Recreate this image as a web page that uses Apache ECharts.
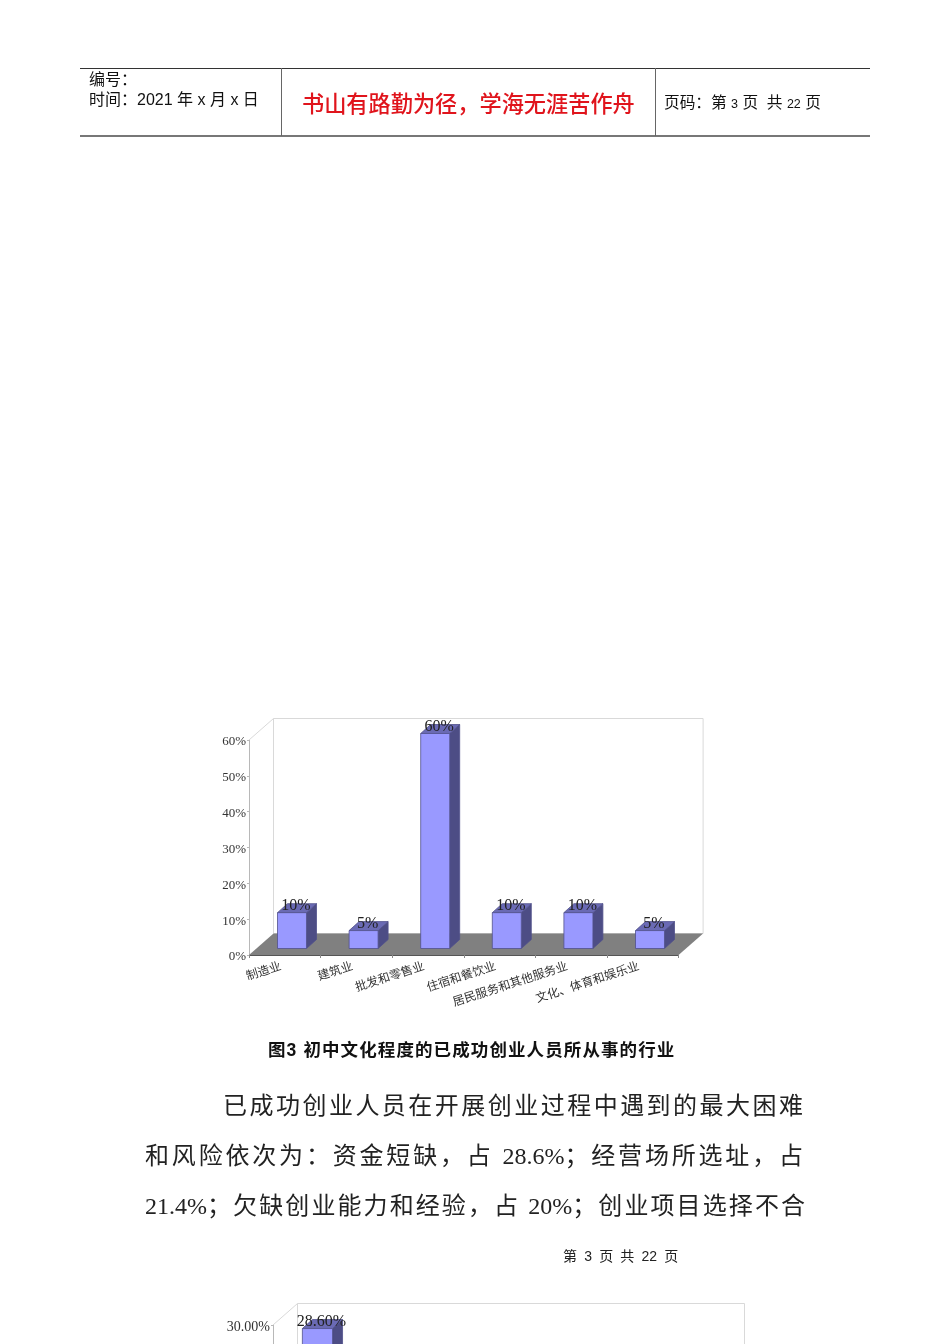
<!DOCTYPE html>
<html><head><meta charset="utf-8">
<style>
html,body{margin:0;padding:0;background:#fff;width:950px;height:1344px;overflow:hidden}
body{position:relative;font-family:"Liberation Sans","Noto Sans CJK SC",sans-serif;color:#111}
#chart{position:absolute;left:0;top:0;width:950px;height:1344px}
.t{position:absolute;white-space:nowrap;line-height:1}
.r{position:absolute;background:#333}
.body{font-family:"Liberation Serif","Noto Sans CJK SC",serif;font-size:24px;color:#222;text-align:justify;text-align-last:justify;white-space:normal}
</style></head><body>
<div id="chart"></div>
<div class="r" style="left:80px;top:68px;width:790px;height:1px"></div>
<div class="r" style="left:80px;top:135px;width:790px;height:2px;background:#777"></div>
<div class="r" style="left:281px;top:68px;width:1px;height:68px;background:#666"></div>
<div class="r" style="left:654.5px;top:68px;width:1px;height:68px;background:#666"></div>
<div class="t" style="left:89px;top:72px;font-size:16px">编号：</div>
<div class="t" style="left:89px;top:92px;font-size:16px">时间：2021 年 x 月 x 日</div>
<div class="t" style="left:302px;top:94px;font-size:22.2px;color:#e0141c;font-weight:500">书山有路勤为径，学海无涯苦作舟</div>
<div class="t" style="left:664px;top:95px;font-size:15.7px">页码：第 <span style="font-size:12.5px">3</span> 页&nbsp; 共 <span style="font-size:12.5px">22</span> 页</div>
<div class="t" style="left:268px;top:1042px;font-size:17.5px;font-weight:700;letter-spacing:1.1px">图3 初中文化程度的已成功创业人员所从事的行业</div>
<div class="t body" style="left:223px;top:1094px;width:580px">已成功创业人员在开展创业过程中遇到的最大困难</div>
<div class="t body" style="left:145px;top:1144px;width:658px">和风险依次为：资金短缺，占 28.6%；经营场所选址，占</div>
<div class="t body" style="left:145px;top:1194px;width:660px">21.4%；欠缺创业能力和经验，占 20%；创业项目选择不合</div>
<div class="t" style="left:563px;top:1249px;font-size:14px;word-spacing:3.3px;color:#222">第 3 页 共 22 页</div>
<script src="https://cdn.jsdelivr.net/npm/echarts@6/dist/echarts.min.js"></script>
<script>
const categories1 = ['制造业','建筑业','批发和零售业','住宿和餐饮业','居民服务和其他服务业','文化、体育和娱乐业'];
const values1 = [10, 5, 60, 10, 10, 5];
const yMax1 = 60, yStep1 = 10;

const categories2 = ['', '', '', '', '', ''];
const values2 = [28.6];
const yMax2 = 30, yStep2 = 5;

const FONT = '"Liberation Serif","Noto Sans CJK SC",serif';
const C = {front:'#9999FF', side:'#4D4D85', top:'#6A6AB4', edge:'#50508C', floor:'#808080', wall:'#D9D9D9', axis:'#B8B8B8'};
const DX = 24.5, DY = 21.5, BAR_DX = 7.2, BAR_DY = 6.5, BAR_D = 10, BAR_H = 9;

function frame(params){
  const g = params.coordSys, l = g.x, r = g.x + g.width, t = g.y, b = g.y + g.height;
  const poly = (pts, fill, stroke) => ({type:'polygon', silent:true, shape:{points:pts}, style:{fill:fill, stroke:stroke||null, lineWidth:1}});
  const line = (a,c,color) => ({type:'line', silent:true, shape:{x1:a[0],y1:a[1],x2:c[0],y2:c[1]}, style:{stroke:color, lineWidth:1, fill:null}});
  return {type:'group', children:[
    poly([[l+DX,t-DY],[r+DX,t-DY],[r+DX,b-DY],[l+DX,b-DY]], '#fff', C.wall),
    line([l,t],[l+DX,t-DY],C.wall),
    poly([[l,b],[r,b],[r+DX,b-DY],[l+DX,b-DY]], C.floor)
  ]};
}
function bar(fmt){
  return function(params, api){
    const i = api.value(0), v = api.value(1);
    const p0 = api.coord([i,0]), p1 = api.coord([i,v]);
    const w = api.size([1,0])[0]*0.405;
    const x0 = p0[0]-w/2+BAR_DX, x1 = x0+w, yb = p0[1]-BAR_DY, yt = p1[1]-BAR_DY;
    const st = f => ({fill:f, stroke:C.edge, lineWidth:0.8});
    return {type:'group', children:[
      {type:'polygon', shape:{points:[[x1,yt],[x1+BAR_D,yt-BAR_H],[x1+BAR_D,yb-BAR_H],[x1,yb]]}, style:st(C.side)},
      {type:'polygon', shape:{points:[[x0,yt],[x0+BAR_D,yt-BAR_H],[x1+BAR_D,yt-BAR_H],[x1,yt]]}, style:st(C.top)},
      {type:'rect', shape:{x:x0,y:yt,width:w,height:yb-yt}, style:st(C.front)},
      {type:'text', z2:10, style:{text:fmt(v), x:x0+w/2+4, y:yt-6.5, align:'center', verticalAlign:'middle', font:'16px '+FONT, fill:'#222'}}
    ]};
  };
}
const pairs = (vals) => vals.map((v,i)=>[i,v]);
const xAxisOf = (gridIndex, cats) => ({
  type:'category', gridIndex, data:cats, boundaryGap:true,
  axisLine:{show:true, lineStyle:{color:'#555', width:1}},
  axisTick:{show:true, length:3, lineStyle:{color:'#888'}},
  axisLabel:{show:true, interval:0, rotate:18, margin:10, padding:[0,4,0,0], fontSize:12, fontFamily:FONT, color:'#333', hideOverlap:false}
});
const yAxisOf = (gridIndex, max, step, fmt) => ({
  type:'value', gridIndex, min:0, max, interval:step,
  axisLine:{show:true, lineStyle:{color:C.axis}},
  axisTick:{show:true, length:2, lineStyle:{color:C.axis}},
  splitLine:{show:false},
  axisLabel:{margin:3, verticalAlign:'top', lineHeight:4, fontFamily:FONT, color:'#333', fontSize:gridIndex?14:13, formatter:fmt}
});
const chart = echarts.init(document.getElementById('chart'), null, {renderer:'canvas'});
chart.setOption({
  animation:false,
  grid:[
    {left:249, top:740, width:429.6, height:215, outerBoundsMode:'none'},
    {left:273, top:1325, width:447, height:215, outerBoundsMode:'none'}
  ],
  xAxis:[xAxisOf(0,categories1), xAxisOf(1,categories2)],
  yAxis:[
    yAxisOf(0,yMax1,yStep1,v=>v+'%'),
    yAxisOf(1,yMax2,yStep2,v=>v.toFixed(2)+'%')
  ],
  series:[
    {type:'custom', xAxisIndex:0, yAxisIndex:0, z:1, clip:false, silent:true, data:[[0,0]], renderItem:frame},
    {type:'custom', xAxisIndex:0, yAxisIndex:0, z:3, clip:false, silent:true, data:pairs(values1), renderItem:bar(v=>v+'%'), encode:{x:0,y:1}},
    {type:'custom', xAxisIndex:1, yAxisIndex:1, z:1, clip:false, silent:true, data:[[0,0]], renderItem:frame},
    {type:'custom', xAxisIndex:1, yAxisIndex:1, z:3, clip:false, silent:true, data:pairs(values2), renderItem:bar(v=>v.toFixed(2)+'%'), encode:{x:0,y:1}}
  ]
});
</script>
</body></html>
